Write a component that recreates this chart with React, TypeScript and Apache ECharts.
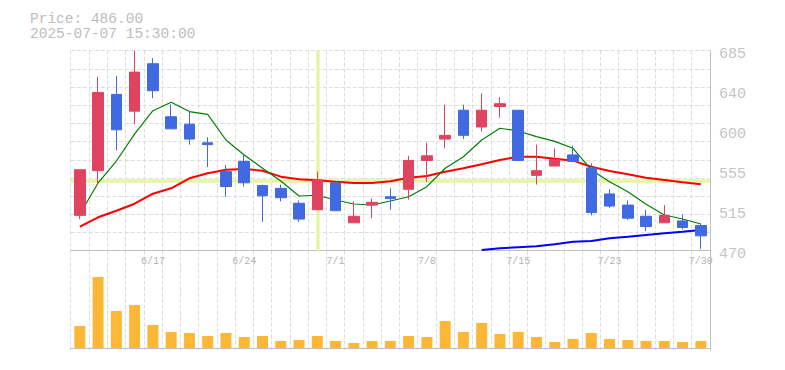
import React, { useEffect, useRef } from "react";
import * as echarts from "echarts";

const dates = [
  "6/11", "6/12", "6/13", "6/16", "6/17", "6/18", "6/19", "6/20", "6/23", "6/24",
  "6/25", "6/26", "6/27", "6/30", "7/1", "7/2", "7/3", "7/4", "7/7", "7/8",
  "7/9", "7/10", "7/11", "7/14", "7/15", "7/16", "7/17", "7/18", "7/22", "7/23",
  "7/24", "7/25", "7/28", "7/29", "7/30",
];

const opens = [508, 556, 638, 620, 671, 614, 606, 586, 555, 566, 540, 537, 521, 514, 543, 500, 519, 528, 536, 567, 590, 621, 603, 625, 621, 551, 561, 573, 559, 531, 519, 507, 500, 502, 497];
const closes = [557, 640, 600, 662, 642, 601, 590, 584, 539, 543, 529, 527, 504, 546, 513, 507, 522, 526, 567, 572, 594, 594, 621, 628, 567, 556, 568, 566, 511, 518, 505, 496, 508, 495, 486];
const lows = [504, 541, 578, 606, 634, 601, 584, 560, 528, 539, 501, 523, 501, 514, 513, 500, 505, 514, 525, 544, 580, 590, 598, 613, 567, 541, 561, 565, 508, 516, 503, 491, 500, 493, 472];
const highs = [557, 657, 658, 685, 677, 627, 620, 592, 562, 574, 541, 541, 524, 555, 543, 523, 526, 537, 572, 586, 627, 627, 639, 635, 621, 584, 580, 583, 564, 536, 524, 514, 519, 509, 499];

const maShort = [509.5, 542.8, 566.4, 595.5, 620.5, 629.5, 619.6, 616.6, 589, 572.9, 558.6, 544.9, 528.8, 529.6, 524.5, 520.2, 519.1, 523.4, 528, 538.8, 558.6, 571, 589, 601.6, 598.7, 592.6, 587.5, 580.1, 556.8, 544.2, 533.4, 519.9, 508.4, 504.1, 498.7];
const maMid = [495.8, 505.9, 513, 520.5, 531.3, 537.1, 547.8, 553.2, 557.1, 557.8, 556, 549.6, 546.8, 545.7, 544.2, 542.8, 542.8, 544.6, 548.5, 550.3, 554.9, 558.6, 562.9, 567.5, 571, 571, 568.8, 566.8, 560.3, 555.7, 552.1, 548.5, 546, 543.5, 541.4];
const maLong = [null, null, null, null, null, null, null, null, null, null, null, null, null, null, null, null, null, null, null, null, null, null, 470.8, 472.6, 473.7, 474.7, 476.9, 479.7, 480.4, 483.3, 485, 486.9, 488.7, 490.4, 492.3];

const volumes = [22, 71, 37, 43, 23, 16, 15, 12, 15, 11, 12, 7, 8, 12, 7, 5, 7, 7, 12, 11, 27, 16, 25, 14, 16, 11, 6, 9, 15, 9, 8, 7, 7, 6, 7];

const priceTicks = { min: 470, max: 685, step: 43 };
const crossDate = "6/30";
const crossPrice = 545;
const priceLabel = "Price: 486.00";
const timeLabel = "2025-07-07 15:30:00";

const MONO = "Liberation Mono";
const gridLine = { color: "#dddddd", width: 1, type: [4, 2] as any };
const axisLineStyle = { color: "#c0c0c0", width: 1 };

export default function App() {
  const ref = useRef<HTMLDivElement>(null);
  useEffect(() => {
    if (!ref.current) return;
    const chart = echarts.init(ref.current, null, { renderer: "svg" });
    const candles = dates.map((_, i) => [opens[i], closes[i], lows[i], highs[i]]);
    const option: any = {
      animation: false,
      backgroundColor: "#ffffff",
      grid: [
        { left: 70.7, right: 75, top: 50.7, height: 200 },
        { left: 70.7, right: 75, top: 250.7, height: 99.3 },
      ],
      graphic: [
        { type: "text", left: 30, top: 11.5, style: { text: priceLabel, font: `14.5px "${MONO}"`, fill: "#bdbdbd" } },
        { type: "text", left: 30, top: 26.5, style: { text: timeLabel, font: `14.5px "${MONO}"`, fill: "#bdbdbd" } },
      ],
      xAxis: [
        {
          type: "category", data: dates, gridIndex: 0, boundaryGap: true,
          axisLine: { show: true, lineStyle: axisLineStyle },
          axisTick: { show: false },
          axisLabel: {
            show: true, interval: (i: number) => (i + 1) % 5 === 0, margin: 6,
            color: "#b4b4b4", fontFamily: MONO, fontSize: 10,
          },
          splitLine: { show: true, interval: 0, lineStyle: gridLine },
        },
        {
          type: "category", data: dates, gridIndex: 1, boundaryGap: true,
          axisLine: { show: true, lineStyle: axisLineStyle },
          axisTick: { show: false },
          axisLabel: { show: false },
          splitLine: { show: true, interval: 0, lineStyle: gridLine },
        },
      ],
      yAxis: [
        {
          type: "value", gridIndex: 0, position: "right", scale: true,
          min: priceTicks.min, max: priceTicks.max, interval: priceTicks.step,
          axisLine: { show: true, lineStyle: axisLineStyle },
          axisTick: { show: false },
          axisLabel: {
            margin: 9, color: "#c4c4c4", fontFamily: MONO, fontSize: 15,
            verticalAlign: "top", lineHeight: 8,
            formatter: (v: number) => String(Math.round(v / 5) * 5),
          },
          splitLine: { show: false },
        },
        {
          type: "value", gridIndex: 0, position: "left", min: 0, max: 11, interval: 1,
          axisLine: { show: false }, axisTick: { show: false }, axisLabel: { show: false },
          splitLine: { show: true, lineStyle: gridLine },
        },
        {
          type: "value", gridIndex: 1, position: "right", min: -2, max: 97.3,
          axisLine: { show: true, lineStyle: axisLineStyle },
          axisTick: { show: false }, axisLabel: { show: false },
          splitLine: { show: false },
        },
      ],
      series: [
        {
          type: "line", xAxisIndex: 0, yAxisIndex: 0, data: dates.map(() => null), z: 1,
          showSymbol: false, silent: true,
          markLine: {
            silent: true, z: 1, symbol: ["none", "none"], label: { show: false },
            lineStyle: { color: "#e4f5a4", width: 3.5, type: "solid" },
            data: [{ xAxis: crossDate }, { yAxis: crossPrice }],
          },
        },
        {
          type: "line", xAxisIndex: 0, yAxisIndex: 0, data: maMid, z: 2,
          showSymbol: false, symbol: "none", lineStyle: { color: "#ff0000", width: 2 },
        },
        {
          type: "line", xAxisIndex: 0, yAxisIndex: 0, data: maShort, z: 2,
          showSymbol: false, symbol: "none", lineStyle: { color: "#008000", width: 1.2 },
        },
        {
          type: "line", xAxisIndex: 0, yAxisIndex: 0, data: maLong, z: 2,
          showSymbol: false, symbol: "none", lineStyle: { color: "#0000ff", width: 2 },
        },
        {
          type: "candlestick", xAxisIndex: 0, yAxisIndex: 0, data: candles, z: 3,
          barWidth: 11,
          itemStyle: {
            color: "#e0435f", color0: "#4169e1",
            borderColor: "#e0435f", borderColor0: "#4169e1", borderWidth: 1,
          },
        },
        {
          type: "bar", xAxisIndex: 1, yAxisIndex: 2, data: volumes, barWidth: 11,
          itemStyle: { color: "#fbb735" },
        },
      ],
    };
    chart.setOption(option);
    return () => chart.dispose();
  }, []);
  return (
    <div
      ref={ref}
      style={{ position: "absolute", left: 0, top: 0, width: 785, height: 370, background: "#fff" }}
    />
  );
}
